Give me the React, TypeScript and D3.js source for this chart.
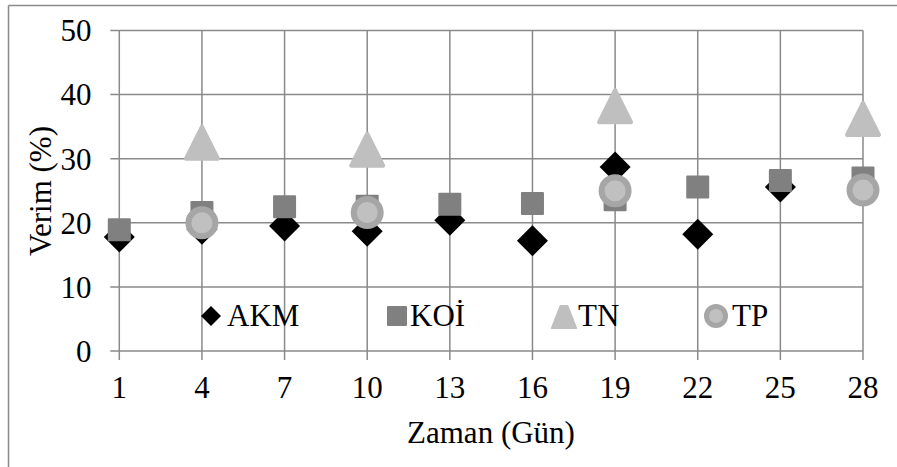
import React from "react";
import * as d3 from "d3";

const days = [1, 4, 7, 10, 13, 16, 19, 22, 25, 28];
const akm = [17.8, 19.0, 19.5, 18.7, 20.4, 17.2, 28.7, 18.2, 25.6, 25.0];
const koi = [18.9, 21.6, 22.5, 22.6, 22.9, 23.0, 23.6, 25.6, 26.6, 27.0];
const tnDays = [4, 10, 19, 28];
const tn = [32.5, 31.4, 38.2, 36.2];
const tpDays = [4, 10, 19, 28];
const tp = [20.0, 21.6, 25.0, 25.1];
const yTicks = [0, 10, 20, 30, 40, 50];
const seriesNames = ["AKM", "KOİ", "TN", "TP"];

const W = 897;
const H = 467;
const FONT = "Liberation Serif";
const GRID = "#8a8a8a";
const txt = { fontFamily: FONT, fontSize: "31px" };

const x = d3.scaleLinear().domain([1, 28]).range([119.3, 863]);
const y = d3.scaleLinear().domain([0, 50]).range([351, 30.5]);

function Diamond({ cx, cy, r }: { cx: number; cy: number; r: number }) {
  return (
    <path
      d={`M${cx},${cy - r}L${cx + r},${cy}L${cx},${cy + r}L${cx - r},${cy}Z`}
      fill="#000"
    />
  );
}
function Square({ cx, cy, s }: { cx: number; cy: number; s: number }) {
  return (
    <rect
      x={cx - s / 2 + 1}
      y={cy - s / 2 + 1}
      width={s - 2}
      height={s - 2}
      fill="#808080"
      stroke="#808080"
      strokeWidth={2}
      strokeLinejoin="round"
    />
  );
}
function Triangle({ cx, cy, w, h }: { cx: number; cy: number; w: number; h: number }) {
  const a = w / 2 - 2;
  const b = h / 2 - 2;
  return (
    <path
      d={`M${cx},${cy - b}L${cx + a},${cy + b}L${cx - a},${cy + b}Z`}
      fill="#bfbfbf"
      stroke="#bfbfbf"
      strokeWidth={4}
      strokeLinejoin="round"
    />
  );
}
function Circle({ cx, cy, r, sw }: { cx: number; cy: number; r: number; sw: number }) {
  return (
    <circle cx={cx} cy={cy} r={r - sw / 2} fill="#c0c0c0" stroke="#a6a6a6" strokeWidth={sw} />
  );
}

export default function App() {
  const left = x(1);
  const right = x(28);
  const top = y(50);
  const bottom = y(0);
  const legendY = 316;
  return (
    <svg
      width={W}
      height={H}
      style={{ position: "absolute", left: 0, top: 0, background: "#fff", fontFamily: FONT }}
    >
      <rect x={0} y={0} width={W} height={H} fill="#fff" />
      <line x1={8.5} y1={5.5} x2={W + 5} y2={5.5} stroke={GRID} strokeWidth={1.5} />
      <line x1={8.5} y1={5.5} x2={8.5} y2={H + 5} stroke={GRID} strokeWidth={1.5} />

      {yTicks.map((t) => (
        <line key={"h" + t} x1={left - 9} x2={right} y1={y(t)} y2={y(t)} stroke={GRID} strokeWidth={1.5} />
      ))}
      {days.map((d) => (
        <line key={"v" + d} x1={x(d)} x2={x(d)} y1={top} y2={bottom + 9} stroke={GRID} strokeWidth={1.5} />
      ))}

      {yTicks.map((t) => (
        <text key={"yl" + t} x={91.5} y={y(t)} dy="0.35em" textAnchor="end" style={txt} fill="#000">
          {t}
        </text>
      ))}
      {days.map((d) => (
        <text key={"xl" + d} x={x(d)} y={398} textAnchor="middle" style={txt} fill="#000">
          {d}
        </text>
      ))}

      <text x={491} y={443} textAnchor="middle" style={txt} fill="#000">
        Zaman (Gün)
      </text>
      <text transform={`translate(51,191) rotate(-90)`} textAnchor="middle" style={txt} fill="#000">
        Verim (%)
      </text>

      {days.map((d, i) => (
        <Diamond key={"a" + d} cx={x(d)} cy={y(akm[i])} r={15.5} />
      ))}
      {days.map((d, i) => (
        <Square key={"k" + d} cx={x(d)} cy={y(koi[i])} s={23} />
      ))}
      {tnDays.map((d, i) => (
        <Triangle key={"t" + d} cx={x(d)} cy={y(tn[i])} w={36} h={36} />
      ))}
      {tpDays.map((d, i) => (
        <Circle key={"p" + d} cx={x(d)} cy={y(tp[i])} r={16.5} sw={6} />
      ))}

      <Diamond cx={211} cy={legendY} r={10} />
      <text x={227} y={326} style={txt} fill="#000">{seriesNames[0]}</text>
      <Square cx={397} cy={legendY} s={20} />
      <text x={410} y={326} style={txt} fill="#000">{seriesNames[1]}</text>
      <defs>
        <clipPath id="tnclip">
          <rect x={550} y={305} width={28} height={24} />
        </clipPath>
      </defs>
      <g clipPath="url(#tnclip)">
        <Triangle cx={564} cy={314} w={26} h={32} />
      </g>
      <text x={578} y={326} style={txt} fill="#000">{seriesNames[2]}</text>
      <Circle cx={716} cy={legendY} r={12} sw={5} />
      <text x={732} y={326} style={txt} fill="#000">{seriesNames[3]}</text>
    </svg>
  );
}
